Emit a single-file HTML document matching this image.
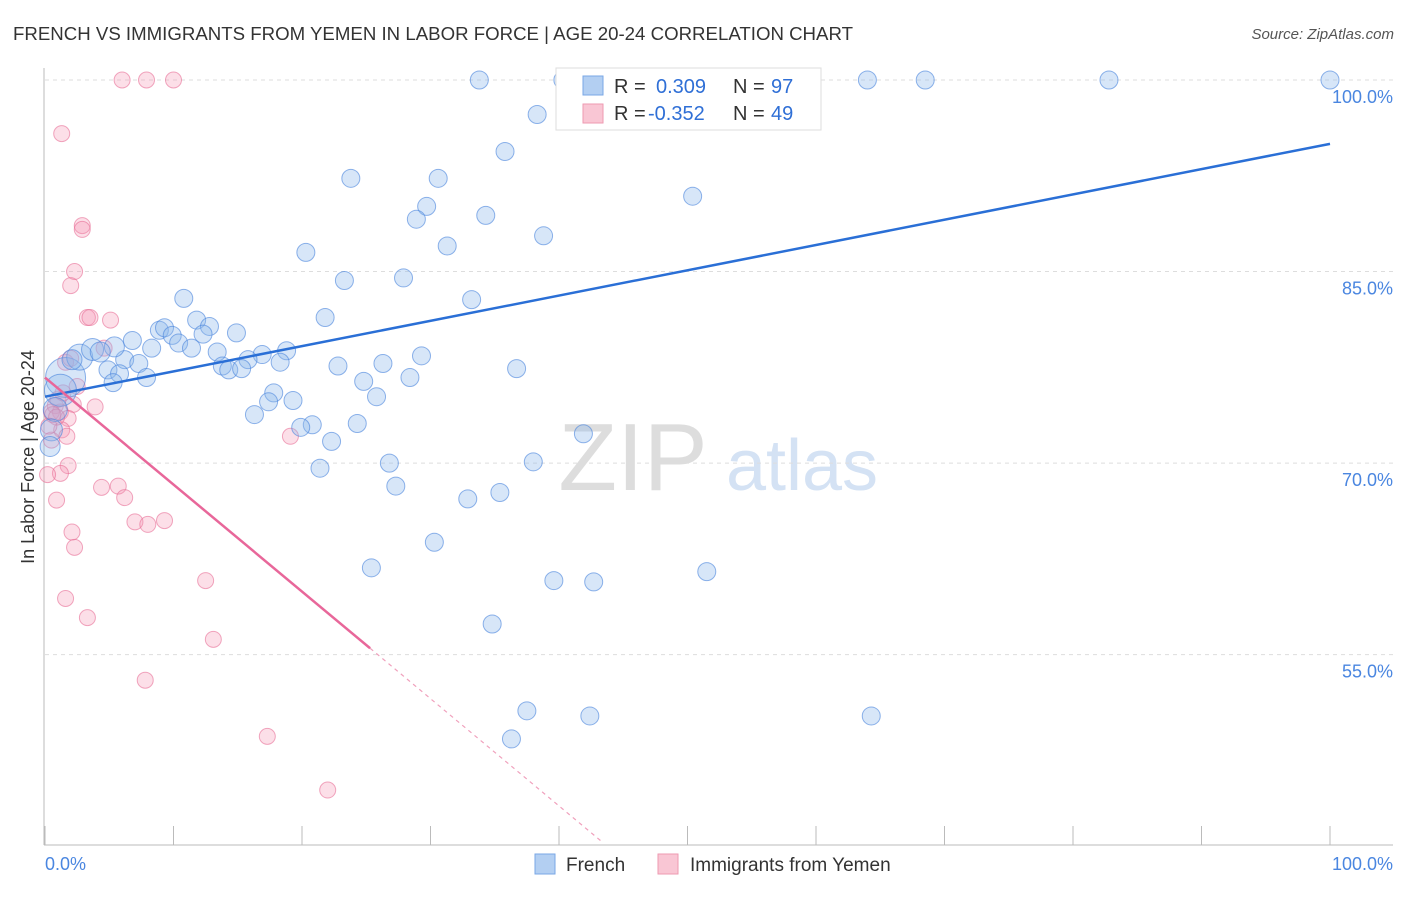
<!DOCTYPE html>
<html><head><meta charset="utf-8"><style>
body{margin:0;background:#fff;font-family:"Liberation Sans",sans-serif;}
svg text{font-family:"Liberation Sans",sans-serif;}
</style></head><body>
<svg width="1406" height="892" xmlns="http://www.w3.org/2000/svg" id="chart">
<text x="13" y="40" font-size="18" fill="#333" textLength="840" lengthAdjust="spacingAndGlyphs">FRENCH VS IMMIGRANTS FROM YEMEN IN LABOR FORCE | AGE 20-24 CORRELATION CHART</text>
<text x="1394" y="39" font-size="15" fill="#555" text-anchor="end" font-style="italic">Source: ZipAtlas.com</text>
<text transform="translate(34,457) rotate(-90)" font-size="18" fill="#333" text-anchor="middle">In Labor Force | Age 20-24</text>
<g>
<text x="633" y="490" font-size="96" fill="#ddd" text-anchor="middle" font-family="Liberation Serif">ZIP</text>
<text x="802" y="490" font-size="72" fill="#d4e2f4" text-anchor="middle">atlas</text>
</g>
<g id="grid"></g><g id="axes"></g><g id="pts"></g><g id="trends"></g>
<g>
<rect x="556" y="68" width="265" height="62" fill="#fff" stroke="#ddd"/>
<rect x="583" y="76" width="20" height="19" fill="#b3cff2" stroke="#7aa7e6"/>
<text x="614" y="93" font-size="20" fill="#333">R = </text><text x="656" y="93" font-size="20" fill="#2f6fd6">0.309</text>
<text x="733" y="93" font-size="20" fill="#333">N = </text><text x="771" y="93" font-size="20" fill="#2f6fd6">97</text>
<rect x="583" y="104" width="20" height="19" fill="#f9c6d4" stroke="#ee9ab1"/>
<text x="614" y="120" font-size="20" fill="#333">R = </text><text x="648" y="120" font-size="20" fill="#2f6fd6">-0.352</text>
<text x="733" y="120" font-size="20" fill="#333">N = </text><text x="771" y="120" font-size="20" fill="#2f6fd6">49</text>
</g>
<g>
<rect x="535" y="854" width="20" height="20" fill="#b3cff2" stroke="#7aa7e6"/>
<text x="566" y="871" font-size="19" fill="#333">French</text>
<rect x="658" y="854" width="20" height="20" fill="#f9c6d4" stroke="#ee9ab1"/>
<text x="690" y="871" font-size="19" fill="#333">Immigrants from Yemen</text>
</g>
</svg>
<script>
const yTicks=[100,85,70,55];
const yTickLabels=["100.0%","85.0%","70.0%","55.0%"];
const xTickLabels=["0.0%","100.0%"];
const frenchX=[33.8,40.3,41.2,46.3,52.5,55.8,64.0,68.5,82.8,100,38.3,35.8,23.8,30.6,50.4,29.7,28.9,34.3,38.8,31.3,20.3,23.3,27.9,33.2,10.8,21.8,11.8,12.8,8.9,9.3,14.9,9.9,12.3,6.8,10.4,8.3,11.4,13.4,18.8,16.9,29.3,15.8,18.3,6.2,7.3,22.8,26.3,4.9,13.8,14.3,15.3,36.7,5.8,7.9,28.4,5.3,24.8,17.8,25.8,17.4,19.3,16.3,24.3,20.8,19.9,41.9,22.3,26.8,38.0,21.4,27.3,35.4,32.9,30.3,25.4,39.6,42.7,51.5,34.8,37.5,42.4,64.3,36.3,1.6,1.2,2.7,3.7,5.4,4.3,0.8,0.5,0.4,2.1];
const frenchY=[100,100,100,100,100,100,100,100,100,100,97.3,94.4,92.3,92.3,90.9,90.1,89.1,89.4,87.8,87.0,86.5,84.3,84.5,82.8,82.9,81.4,81.2,80.7,80.4,80.6,80.2,80.0,80.1,79.6,79.4,79.0,79.0,78.7,78.8,78.5,78.4,78.1,77.9,78.1,77.8,77.6,77.8,77.3,77.6,77.3,77.4,77.4,77.0,76.7,76.7,76.3,76.4,75.5,75.2,74.8,74.9,73.8,73.1,73.0,72.8,72.3,71.7,70.0,70.1,69.6,68.2,67.7,67.2,63.8,61.8,60.8,60.7,61.5,57.4,50.6,50.2,50.2,48.4,76.7,75.7,78.3,78.9,79.1,78.7,74.2,72.6,71.3,78.1];
const frenchR=[9,9,9,9,9,9,9,9,9,9,9,9,9,9,9,9,9,9,9,9,9,9,9,9,9,9,9,9,9,9,9,9,9,9,9,9,9,9,9,9,9,9,9,9,9,9,9,9,9,9,9,9,9,9,9,9,9,9,9,9,9,9,9,9,9,9,9,9,9,9,9,9,9,9,9,9,9,9,9,9,9,9,9,20,16,13,11,10,10,12,11,10,10];
const yemenX=[6.0,7.9,10.0,1.3,2.9,2.9,2.3,2.0,3.3,3.5,5.1,4.6,1.6,2.0,0.8,1.2,0.5,2.2,3.9,1.8,1.3,1.7,0.5,1.0,19.1,1.8,1.2,0.2,4.4,5.7,6.2,0.9,7.0,8.0,9.3,2.1,2.3,12.5,1.6,3.3,13.1,7.8,17.3,22.0,0.6,1.4,0.9,2.5,0.3];
const yemenY=[100,100,100,95.8,88.6,88.3,85.0,83.9,81.4,81.4,81.2,79.0,77.9,78.2,74.5,74.0,74.0,74.6,74.4,73.5,72.6,72.1,71.8,75.0,72.1,69.8,69.2,69.1,68.1,68.2,67.3,67.1,65.4,65.2,65.5,64.6,63.4,60.8,59.4,57.9,56.2,53.0,48.6,44.4,73.8,75.5,73.6,76.0,72.9];
const frenchTrend=[[0,75.2],[100,95.0]];
const yemenTrendSolid=[[0,76.7],[25.3,55.5]];
const yemenTrendDash=[[25.3,55.5],[43.4,40.3]];
const NS="http://www.w3.org/2000/svg";
const X=v=>45+v*12.85, Y=v=>80+(100-v)*12.77;
function mk(t,a,p){const e=document.createElementNS(NS,t);for(const k in a)e.setAttribute(k,a[k]);p.appendChild(e);return e;}
const grid=document.getElementById('grid'),axes=document.getElementById('axes'),pts=document.getElementById('pts'),tr=document.getElementById('trends');
yTicks.forEach((v,i)=>{const l=mk('line',{x1:45,x2:1393,y1:Y(v),y2:Y(v),stroke:'#ddd','stroke-dasharray':'4,4'},grid);


const t=mk('text',{x:1393,y:Y(v)+23,'font-size':18,fill:'#4a86e0','text-anchor':'end'},grid);t.textContent=yTickLabels[i];

});
const ya=mk('line',{x1:44,x2:44,y1:68,y2:845,stroke:'#bbb'},axes);


const xa=mk('line',{x1:44,x2:1393,y1:845,y2:845,stroke:'#bbb'},axes);


for(let k=0;k<=10;k++){const t=mk('line',{x1:X(k*10),x2:X(k*10),y1:826,y2:845,stroke:'#bbb'},axes);

}
const xl0=mk('text',{x:45,y:870,'font-size':18,fill:'#4a86e0'},axes);xl0.textContent=xTickLabels[0];


const xl1=mk('text',{x:1393,y:870,'font-size':18,fill:'#4a86e0','text-anchor':'end'},axes);xl1.textContent=xTickLabels[1];


yemenX.forEach((x,i)=>{const c=mk('circle',{cx:X(x),cy:Y(yemenY[i]),r:8,fill:'rgba(244,150,178,0.3)',stroke:'rgba(232,110,150,0.6)'},pts);

});
frenchX.forEach((x,i)=>{const c=mk('circle',{cx:X(x),cy:Y(frenchY[i]),r:frenchR[i],fill:'rgba(140,182,236,0.35)',stroke:'rgba(70,130,220,0.6)'},pts);

});
function ln(d,col,dash,name,w){const l=mk('line',{x1:X(d[0][0]),y1:Y(d[0][1]),x2:X(d[1][0]),y2:Y(d[1][1]),stroke:col,'stroke-width':w},tr);if(dash)l.setAttribute('stroke-dasharray',dash);

}
ln(frenchTrend,'#2a6fd6',null,'french-trend-line',2.5);
ln(yemenTrendSolid,'#e8679a',null,'yemen-trend-line',2.5);
ln(yemenTrendDash,'#f0a0bc','4,4','yemen-trend-extension',1.2);
</script>
</body></html>
